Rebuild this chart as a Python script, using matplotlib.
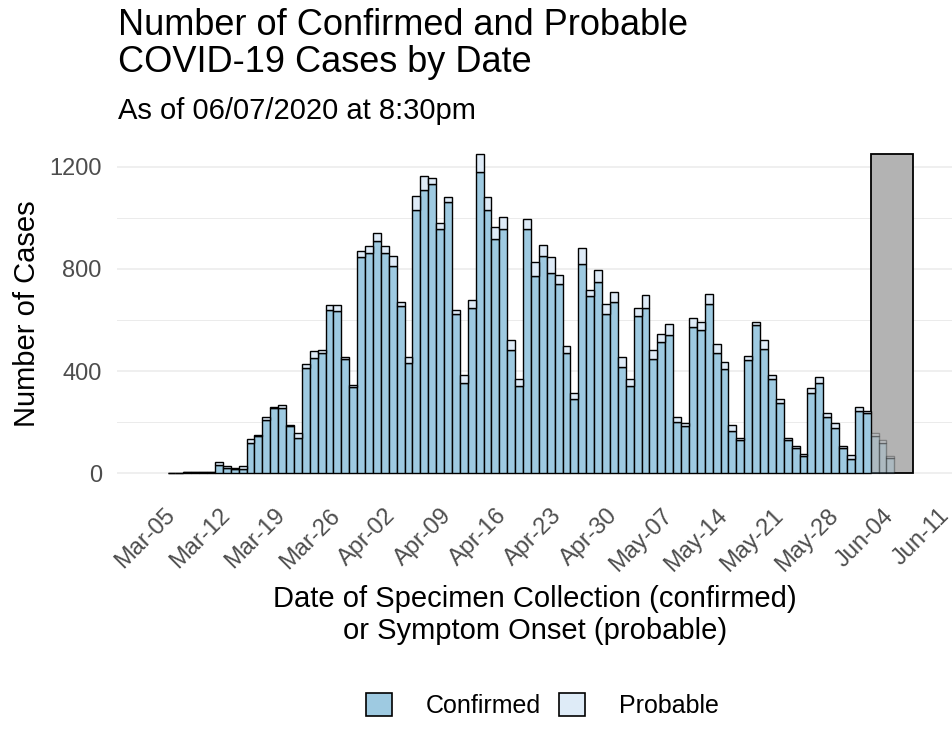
import numpy as np
import pandas as pd
import matplotlib
matplotlib.use("Agg")
import matplotlib.pyplot as plt
import matplotlib.dates as mdates
from matplotlib.patches import Rectangle, Patch

plt.rcParams['font.family'] = ['Liberation Sans', 'DejaVu Sans']

# daily counts, Mar-06 .. Jun-05
start_date = "2020-03-06"
confirmed = [1, 1, 4, 5, 6, 6,
             33, 20, 16, 16, 120, 146, 209, 255, 255, 186, 140, 414, 453, 470,
             640, 634, 448, 336, 847, 863, 908, 863, 813, 654, 431, 1029, 1107, 1131,
             957, 1061, 625, 353, 647, 1179, 1029, 918, 957, 481, 340, 957, 774, 852,
             782, 742, 470, 290, 821, 695, 749, 625, 670, 416, 340, 614, 647, 448,
             514, 542, 199, 187, 572, 562, 664, 470, 408, 167, 131, 442, 582, 488,
             369, 274, 131, 98, 68, 314, 353, 220, 176, 98, 55, 242, 235, 145,
             120, 60]
probable = [0, 0, 0, 0, 0, 0,
            13, 9, 4, 13, 13, 4, 13, 6, 13, 4, 17, 13, 24, 11,
            17, 23, 9, 8, 22, 28, 33, 28, 39, 16, 24, 56, 56, 23,
            23, 21, 13, 33, 33, 71, 53, 47, 47, 39, 29, 38, 53, 41,
            65, 33, 27, 24, 59, 24, 48, 39, 40, 41, 29, 33, 50, 33,
            32, 44, 23, 9, 36, 30, 39, 36, 26, 23, 6, 18, 10, 32,
            17, 17, 9, 10, 8, 19, 23, 15, 20, 10, 17, 17, 7, 12,
            11, 8]

tick_start = "2020-03-05"
tick_end = "2020-06-11"
shade_start = "2020-06-02 12:00"
shade_end = "2020-06-07 20:00"

dates = pd.date_range(start_date, periods=len(confirmed), freq="D")
x = mdates.date2num(dates)
confirmed = np.array(confirmed)
probable = np.array(probable)
total = confirmed + probable

fig = plt.figure(figsize=(9.53, 7.36), dpi=100)
ax = fig.add_axes([0.1228, 0.3352, 0.877, 0.4774])

blue = "#9ECAE1"
light = "#DEEBF7"

s0 = mdates.date2num(pd.Timestamp(shade_start))
s1 = mdates.date2num(pd.Timestamp(shade_end))
recent = x >= s0
old = ~recent

ax.bar(x[old], confirmed[old], width=1, color=blue, edgecolor='black', linewidth=1.0, zorder=2)
ax.bar(x[old], probable[old], width=1, bottom=confirmed[old], color=light, edgecolor='black',
       linewidth=1.0, zorder=2)

# grey box over the most recent (incomplete) days, bars there are faded
ax.add_patch(Rectangle((s0, 0), s1 - s0, total.max(), facecolor='#B3B3B3',
                       edgecolor='black', linewidth=1.3, zorder=1.5))
ax.bar(x[recent], confirmed[recent], width=1, color=blue, edgecolor='black', linewidth=1.0,
       alpha=0.3, zorder=2)
ax.bar(x[recent], probable[recent], width=1, bottom=confirmed[recent], color=light, edgecolor='black',
       linewidth=1.0, alpha=0.3, zorder=2)

ticks = pd.date_range(tick_start, tick_end, freq="7D")
t0 = mdates.date2num(ticks[0])
ax.set_xlim(t0 - 5.9, t0 + 99.9)
ax.set_ylim(-62.5, 1312.5)
ax.set_xticks(mdates.date2num(ticks))
ax.set_xticklabels([t.strftime("%b-%d") for t in ticks], rotation=45, ha='right', va='top',
                   rotation_mode='anchor')
ax.set_yticks([0, 400, 800, 1200])
ax.set_yticks([200, 600, 1000], minor=True)
ax.tick_params(axis='both', length=0, labelsize=17, labelcolor='#4D4D4D')
ax.tick_params(axis='x', pad=11)
ax.tick_params(axis='y', pad=11)
ax.tick_params(axis='y', which='minor', length=0)
ax.grid(axis='y', which='major', color='#EBEBEB', linewidth=1.1, zorder=0)
ax.grid(axis='y', which='minor', color='#EBEBEB', linewidth=0.7, zorder=0)
ax.set_axisbelow(True)
for sp in ax.spines.values():
    sp.set_visible(False)

ax.set_ylabel("Number of Cases", fontsize=21, labelpad=6)
fig.text(535 / 953, 1 - 585 / 736, "Date of Specimen Collection (confirmed)\nor Symptom Onset (probable)",
         ha='center', va='top', fontsize=21, linespacing=1.19)

fig.text(118 / 953, 1 - 8 / 736, "Number of Confirmed and Probable\nCOVID-19 Cases by Date",
         ha='left', va='top', fontsize=26, linespacing=1.08)
fig.text(118 / 953, 1 - 119 / 736, "As of 06/07/2020 at 8:30pm", ha='left', va='baseline', fontsize=21)

handles = [Patch(facecolor=blue, edgecolor='black', linewidth=1.2, label='Confirmed'),
           Patch(facecolor=light, edgecolor='black', linewidth=1.2, label='Probable')]
fig.legend(handles=handles, loc='center', bbox_to_anchor=(0.569, 0.041), ncol=2, frameon=False,
           fontsize=18, handlelength=1.05, handleheight=1.0, handletextpad=1.35, columnspacing=0.7)

fig.savefig("out.png", dpi=100)
